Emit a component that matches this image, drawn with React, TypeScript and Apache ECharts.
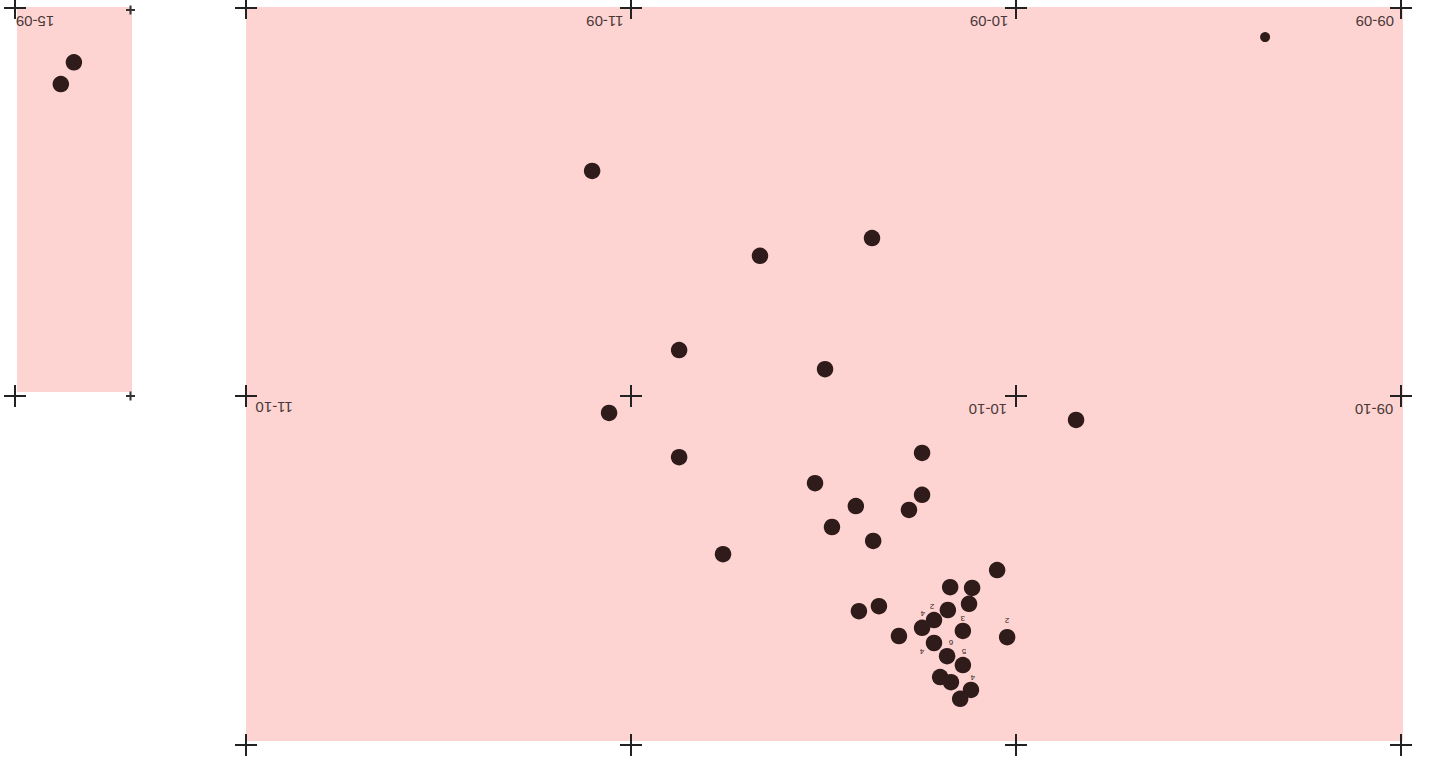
import React, { useEffect, useRef } from "react";
import * as echarts from "echarts";

// Main panel: x = hours (12 at left → 9 at right), y = rows (9 at top → 10.9 at bottom)
const mainStars: [number, number][] = [
  [11.101, 9.42], [10.374, 9.593], [10.665, 9.639], [10.875, 9.882], [10.496, 9.931],
  [11.057, 10.044], [9.844, 10.062], [10.244, 10.147], [10.875, 10.158], [10.522, 10.225],
  [10.244, 10.255], [10.416, 10.284], [10.278, 10.294], [10.478, 10.338], [10.371, 10.374],
  [10.761, 10.408], [10.049, 10.449], [10.171, 10.493], [10.114, 10.495], [10.122, 10.536],
  [10.177, 10.552], [10.356, 10.542], [10.408, 10.555], [10.213, 10.578], [10.138, 10.606],
  [10.244, 10.598], [10.304, 10.619], [10.023, 10.622], [10.213, 10.637], [10.179, 10.671],
  [10.138, 10.694], [10.197, 10.725], [10.169, 10.738], [10.117, 10.758], [10.145, 10.781],
];
const faintStars: [number, number][] = [[9.353, 9.075]];
const insetStars: [number, number][] = [[14.847, 9.14], [14.881, 9.196]];

const starTags: [number, number, string][] = [
  [10.218, 10.544, "2"], [10.242, 10.562, "4"], [10.138, 10.575, "3"], [10.023, 10.58, "2"],
  [10.169, 10.637, "6"], [10.135, 10.66, "5"], [10.244, 10.658, "4"], [10.112, 10.725, "4"],
];

const mainCrossX = [12, 11, 10, 9];
const mainCrossY = [9, 10, 10.9];
const insetCrossBig: [number, number][] = [[15, 9], [15, 10]];
const insetCrossSmall: [number, number][] = [[14.7, 9.005], [14.7, 10]];

const gridLabels: [number, number, string][] = [
  [11.068, 9.034, "11-09"], [10.07, 9.034, "10-09"], [9.068, 9.034, "09-09"],
  [11.927, 10.031, "11-10"], [10.073, 10.034, "10-10"], [9.07, 10.034, "09-10"],
];
const insetLabels: [number, number, string][] = [[14.948, 9.034, "15-09"]];

const CROSS = "path://M10,0h2v10h10v2h-10v10h-2v-10h-10v-2h10z";
const SMALL_CROSS = "path://M3.5,0h2v3.5h3.5v2h-3.5v3.5h-2v-3.5h-3.5v-2h3.5z";

export default function App() {
  const ref = useRef<HTMLDivElement>(null);
  useEffect(() => {
    if (!ref.current) return;
    const chart = echarts.init(ref.current, null, { renderer: "svg" });
    const mainCrosses: [number, number][] = [];
    mainCrossY.forEach((y) => mainCrossX.forEach((x) => mainCrosses.push([x, y])));
    const hidden = {
      axisLine: { show: false },
      axisTick: { show: false },
      axisLabel: { show: false },
      splitLine: { show: false },
    };
    const textLabel = (size: number, color: string) => ({
      show: true,
      position: "inside" as const,
      rotate: 180,
      fontSize: size,
      color,
      fontFamily: "Liberation Sans, Arial, sans-serif",
      formatter: (p: any) => p.value[2],
    });
    const ghost = { color: "rgba(0,0,0,0)", opacity: 1 };
    chart.setOption({
      animation: false,
      backgroundColor: "#ffffff",
      graphic: [
        { type: "rect", z: -10, shape: { x: 246, y: 7, width: 1157, height: 734 }, style: { fill: "#fdd4d2" } },
        { type: "rect", z: -10, shape: { x: 17, y: 7, width: 115, height: 385 }, style: { fill: "#fdd4d2" } },
      ],
      grid: [
        { left: 246, top: 8, width: 1155, height: 737 },
        { left: 15, top: 8, width: 115.5, height: 387.9 },
      ],
      xAxis: [
        { type: "value", gridIndex: 0, min: 9, max: 12, inverse: true, ...hidden },
        { type: "value", gridIndex: 1, min: 14.7, max: 15, inverse: true, ...hidden },
      ],
      yAxis: [
        { type: "value", gridIndex: 0, min: 9, max: 10.9, inverse: true, ...hidden },
        { type: "value", gridIndex: 1, min: 9, max: 10, inverse: true, ...hidden },
      ],
      series: [
        {
          type: "scatter", xAxisIndex: 0, yAxisIndex: 0, z: 3, data: mainStars,
          symbolSize: 16.5, itemStyle: { color: "#2f1b1a", opacity: 1 },
        },
        {
          type: "scatter", xAxisIndex: 0, yAxisIndex: 0, z: 3, data: faintStars,
          symbolSize: 10, itemStyle: { color: "#2f1b1a", opacity: 1 },
        },
        {
          type: "scatter", xAxisIndex: 1, yAxisIndex: 1, z: 3, data: insetStars,
          symbolSize: 16.5, itemStyle: { color: "#2f1b1a", opacity: 1 },
        },
        {
          type: "scatter", xAxisIndex: 0, yAxisIndex: 0, z: 4, data: mainCrosses,
          symbol: CROSS, symbolSize: 22, itemStyle: { color: "#222222", opacity: 1 }, clip: false,
        },
        {
          type: "scatter", xAxisIndex: 1, yAxisIndex: 1, z: 4, data: insetCrossBig,
          symbol: CROSS, symbolSize: 22, itemStyle: { color: "#222222", opacity: 1 }, clip: false,
        },
        {
          type: "scatter", xAxisIndex: 1, yAxisIndex: 1, z: 4, data: insetCrossSmall,
          symbol: SMALL_CROSS, symbolSize: 9, itemStyle: { color: "#333333", opacity: 1 }, clip: false,
        },
        {
          type: "scatter", xAxisIndex: 0, yAxisIndex: 0, z: 5, data: gridLabels,
          symbolSize: 1, itemStyle: ghost, label: textLabel(15, "#4a3838"),
        },
        {
          type: "scatter", xAxisIndex: 1, yAxisIndex: 1, z: 5, data: insetLabels,
          symbolSize: 1, itemStyle: ghost, label: textLabel(15, "#4a3838"),
        },
        {
          type: "scatter", xAxisIndex: 0, yAxisIndex: 0, z: 5, data: starTags,
          symbolSize: 1, itemStyle: ghost, label: textLabel(8, "#3a2828"),
        },
      ],
    });
    return () => chart.dispose();
  }, []);
  return (
    <div
      ref={ref}
      style={{ position: "absolute", left: 0, top: 0, width: 1431, height: 764 }}
    />
  );
}
